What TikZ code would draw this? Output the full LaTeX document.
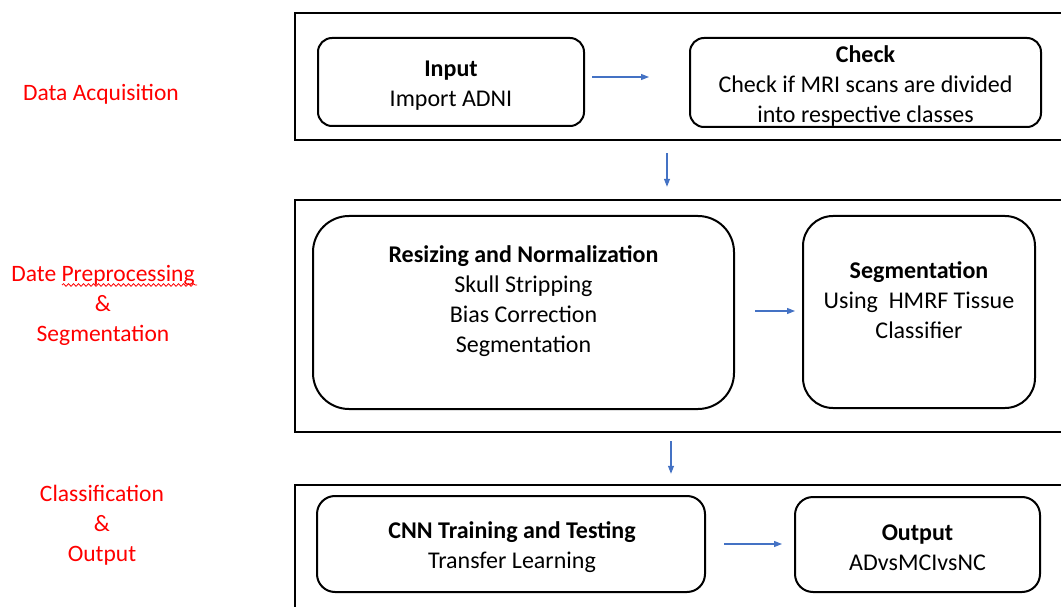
\documentclass[tikz,border=0pt]{standalone}
\usepackage{fontspec}
\setmainfont{Carlito}
\usetikzlibrary{arrows.meta,calc,decorations.pathmorphing}
\definecolor{flowblue}{HTML}{4472C4}
\definecolor{stagered}{HTML}{FF0000}

\begin{document}
\begin{tikzpicture}[x={(1pt,0)},y={(0,-1pt)},
  frame/.style={draw,line width=2.4pt,inner sep=0pt},
  stepbox/.style={draw,line width=2pt,inner sep=0pt},
  boxtext/.style={align=center,font=\fontsize{24}{30}\selectfont,inner sep=0pt},
  stage/.style={align=center,text=stagered,font=\fontsize{23.5}{30}\selectfont,inner sep=0pt},
  flow/.style={draw=flowblue,line width=1.2pt,-{Triangle[length=8pt,width=6pt]}}]
\useasboundingbox (0,0) rectangle (1061,607);
\clip (0,0) rectangle (1061,607);

% stage frames
\node[frame,minimum width=800pt,minimum height=127pt] (frame1) at (695,76.5) {};
\node[frame,minimum width=800pt,minimum height=232pt] (frame2) at (695,316) {};
\node[frame,minimum width=800pt,minimum height=160pt] (frame3) at (695,565) {};

% process boxes
\node[stepbox,rounded corners=14pt,minimum width=266pt,minimum height=88pt] (input) at (451,82) {};
\node[stepbox,rounded corners=14pt,minimum width=351pt,minimum height=89pt] (check) at (865.5,82.5) {};
\node[stepbox,rounded corners=36pt,minimum width=421pt,minimum height=193pt] (resize) at (523.5,312.5) {};
\node[stepbox,rounded corners=30pt,minimum width=232pt,minimum height=192pt] (seg) at (919,312) {};
\node[stepbox,rounded corners=18pt,minimum width=388pt,minimum height=96pt] (cnn) at (511,544) {};
\node[stepbox,rounded corners=18pt,minimum width=245pt,minimum height=95pt] (output) at (917.5,544.5) {};

% box texts
\node[boxtext] (inputT) at (451,86) {\textbf{Input}\\Import ADNI};
\node[boxtext] (checkT) at (865.5,86) {\textbf{Check}\\Check if MRI scans are divided\\into respective classes};
\node[boxtext] (resizeT) at (523.5,301) {\textbf{Resizing and Normalization}\\Skull Stripping\\Bias Correction\\Segmentation};
\node[boxtext] (segT) at (919,300) {\textbf{Segmentation}\\Using\ \ HMRF Tissue\\Classifier};
\node[boxtext] (cnnT) at (512,547.5) {\textbf{CNN Training and Testing}\\Transfer Learning};
\node[boxtext] (outputT) at (917.5,547.5) {\textbf{Output}\\ADvsMCIvsNC};

% flow arrows
\draw[flow] ($(input.east)+(7,-5)$) -- ($(check.west)+(-40,-5.5)$);
\draw[flow] ($(frame1.south)+(-28,12)$) -- ($(frame2.north)+(-28,-12)$);
\draw[flow] ($(resize.east)+(20,-1.5)$) -- ($(seg.west)+(-7,-1)$);
\draw[flow] ($(frame2.south)+(-24,8)$) -- ($(frame3.north)+(-24,-10)$);
\draw[flow] ($(cnn.east)+(18,0)$) -- ($(output.west)+(-12,-0.5)$);

% stage labels
\node[stage] (acq) at (101,94) {Data Acquisition};
\node[stage] (prep) at (103,305) {Date Preprocessing\\\&\\Segmentation};
\node[stage] (cls) at (102,525) {Classification\\\&\\Output};
\draw[stagered,line width=0.8pt,decorate,decoration={snake,amplitude=1.3pt,segment length=5pt}]
  ($(prep.center)+(-41,-20)$) -- ($(prep.center)+(94,-20)$);
\end{tikzpicture}
\end{document}
